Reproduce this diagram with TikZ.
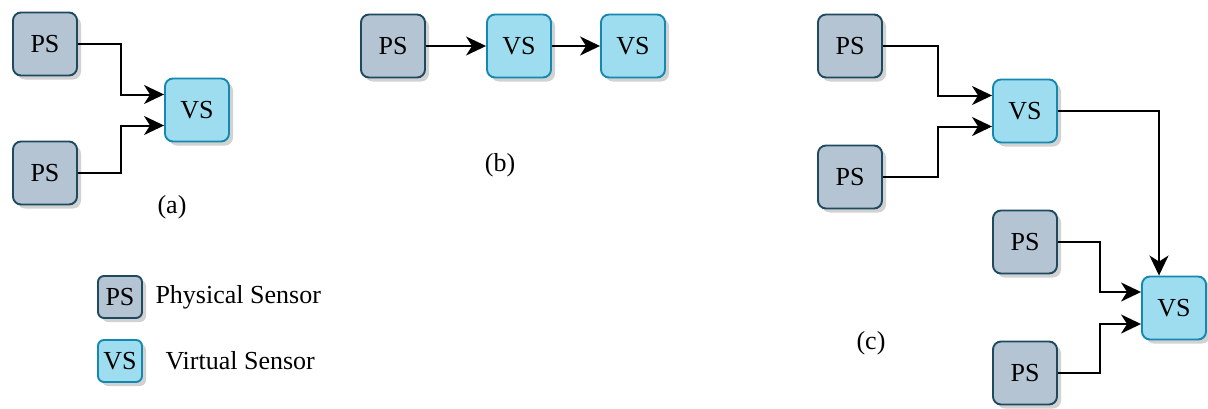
\documentclass[tikz,border=0pt]{standalone}
\usepackage{fontspec}
\setmainfont{Liberation Serif}
\usetikzlibrary{arrows.meta,calc,shadows}
\definecolor{psfill}{HTML}{B5C4D3}
\definecolor{psdraw}{HTML}{1E4A60}
\definecolor{vsfill}{HTML}{9EDDF0}
\definecolor{vsdraw}{HTML}{1488B0}
\tikzset{
  box/.style={rounded corners=8pt, line width=1.9pt, minimum width=64pt, minimum height=63pt, inner sep=0pt,
    font=\fontsize{26}{30}\selectfont,
    drop shadow={shadow xshift=4pt, shadow yshift=-4pt, fill=black!22, opacity=0.8}},
  psbox/.style={box, fill=psfill, draw=psdraw},
  vsbox/.style={box, fill=vsfill, draw=vsdraw},
  legbox/.style={minimum width=44pt, minimum height=42pt, rounded corners=6pt},
  arr/.style={line width=2pt, -{Stealth[length=20pt,width=19pt,inset=6pt]}},
  sublabel/.style={font=\fontsize{26}{30}\selectfont},
  legtext/.style={font=\fontsize{26}{30}\selectfont, anchor=west}
}
\begin{document}
\begin{tikzpicture}[x=1pt,y=-1pt]
\useasboundingbox (0,0) rectangle (1208,408);
% (a)
\node[psbox] (pa1) at (45,44) {PS};
\node[psbox] (pa2) at (45,173) {PS};
\node[vsbox] (va) at (197,110) {VS};
\node[sublabel] (la) at (172,207) {(a)};
\draw[arr] (pa1.east) -| ($(pa1.east)!0.5!(va.west)$) |- ([yshift=15.5pt]va.west);
\draw[arr] (pa2.east) -| ($(pa2.east)!0.5!(va.west)$) |- ([yshift=-15.5pt]va.west);
% legend
\node[psbox, legbox] (lps) at (120,297) {PS};
\node[vsbox, legbox] (lvs) at (120,361) {VS};
\node[legtext] (tps) at (152,297) {Physical Sensor};
\node[legtext] (tvs) at (162,361) {Virtual Sensor};
% (b)
\node[psbox] (pb) at (393,46) {PS};
\node[vsbox] (vb1) at (519,46) {VS};
\node[vsbox] (vb2) at (633,46) {VS};
\node[sublabel] (lb) at (500,165) {(b)};
\draw[arr] (pb) -- (vb1);
\draw[arr] (vb1) -- (vb2);
% (c)
\node[psbox] (pc1) at (850,46) {PS};
\node[psbox] (pc2) at (850,177) {PS};
\node[vsbox] (vc1) at (1025,111) {VS};
\node[psbox] (pc3) at (1025,242) {PS};
\node[psbox] (pc4) at (1025,373) {PS};
\node[vsbox] (vc2) at (1174,308) {VS};
\node[sublabel] (lc) at (871,343) {(c)};
\draw[arr] (pc1.east) -| ($(pc1.east)!0.5!(vc1.west)$) |- ([yshift=15.5pt]vc1.west);
\draw[arr] (pc2.east) -| ($(pc2.east)!0.5!(vc1.west)$) |- ([yshift=-15.5pt]vc1.west);
\draw[arr] (vc1.east) -| ([xshift=-15pt]vc2.north);
\draw[arr] (pc3.east) -| ($(pc3.east)!0.5!(vc2.west)$) |- ([yshift=16pt]vc2.west);
\draw[arr] (pc4.east) -| ($(pc4.east)!0.5!(vc2.west)$) |- ([yshift=-16pt]vc2.west);
\end{tikzpicture}
\end{document}
